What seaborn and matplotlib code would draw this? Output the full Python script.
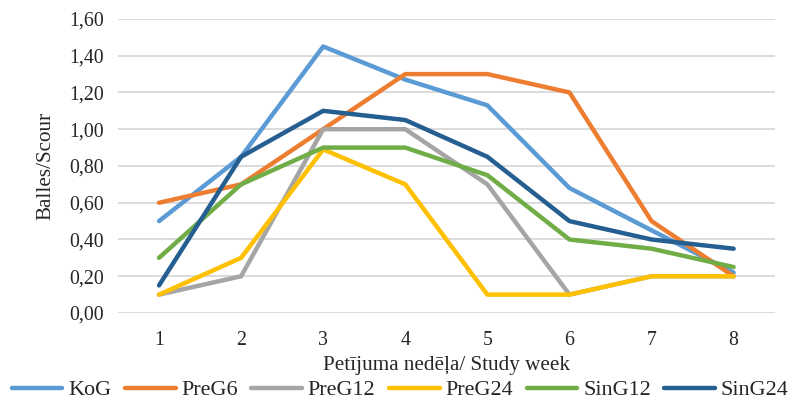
import matplotlib
matplotlib.use("Agg")
import matplotlib.pyplot as plt
import seaborn as sns
import pandas as pd

weeks = [1, 2, 3, 4, 5, 6, 7, 8]
kog = [0.50, 0.85, 1.45, 1.27, 1.13, 0.68, 0.45, 0.22]
preg6 = [0.60, 0.70, 1.00, 1.30, 1.30, 1.20, 0.50, 0.20]
preg12 = [0.10, 0.20, 1.00, 1.00, 0.70, 0.10, 0.20, 0.20]
preg24 = [0.10, 0.30, 0.89, 0.70, 0.10, 0.10, 0.20, 0.20]
sing12 = [0.30, 0.70, 0.90, 0.90, 0.75, 0.40, 0.35, 0.25]
sing24 = [0.15, 0.85, 1.10, 1.05, 0.85, 0.50, 0.40, 0.35]

groups = ["KoG", "PreG6", "PreG12", "PreG24", "SinG12", "SinG24"]
series = [kog, preg6, preg12, preg24, sing12, sing24]
colors = ["#5B9BD5", "#ED7D31", "#A5A5A5", "#FFC000", "#70AD47", "#255E91"]
y_ticks = [0.0, 0.2, 0.4, 0.6, 0.8, 1.0, 1.2, 1.4, 1.6]

rows = []
for g, vals in zip(groups, series):
    for w, v in zip(weeks, vals):
        rows.append({"week": w, "score": v, "group": g})
df = pd.DataFrame(rows)

sns.set_style("white")
plt.rcParams["font.family"] = ["Liberation Serif", "DejaVu Serif"]

fig = plt.figure(figsize=(7.97, 4.03), dpi=100)
ax = fig.add_axes([0.148, 0.2233, 0.824, 0.7297])

sns.lineplot(data=df, x="week", y="score", hue="group", hue_order=groups,
             palette=colors, linewidth=3.2, ax=ax, legend=False,
             solid_capstyle="round", solid_joinstyle="round")

ax.set_xlim(0.5, 8.5)
ax.set_ylim(0, 1.6)
ax.set_yticks(y_ticks)
ax.set_yticklabels([f"{v:.2f}".replace(".", ",") for v in y_ticks], fontsize=14.3, color="#262626")
ax.set_xticks(weeks)
ax.set_xticklabels([str(w) for w in weeks], fontsize=14.3, color="#262626")
ax.tick_params(axis="both", length=0)
ax.tick_params(axis="x", pad=13)
ax.tick_params(axis="y", pad=10)
ax.grid(axis="y", color="#D9D9D9", linewidth=1.3)
ax.set_axisbelow(True)
for s in ax.spines.values():
    s.set_visible(False)

ax.set_xlabel("Petījuma nedēļa/ Study week", fontsize=15.2, color="#262626", labelpad=4)
ax.set_ylabel("Balles/Scour", fontsize=15.2, color="#262626", labelpad=10)

handles = [plt.Line2D([0], [0], color=c, linewidth=3.2, solid_capstyle="round") for c in colors]
fig.legend(handles, groups, loc="center", bbox_to_anchor=(0.502, 0.032), ncol=6,
           frameon=False, fontsize=15.9, handlelength=2.3, handletextpad=0.25,
           columnspacing=0.62, labelcolor="#262626")

fig.savefig("out.png", dpi=100)
